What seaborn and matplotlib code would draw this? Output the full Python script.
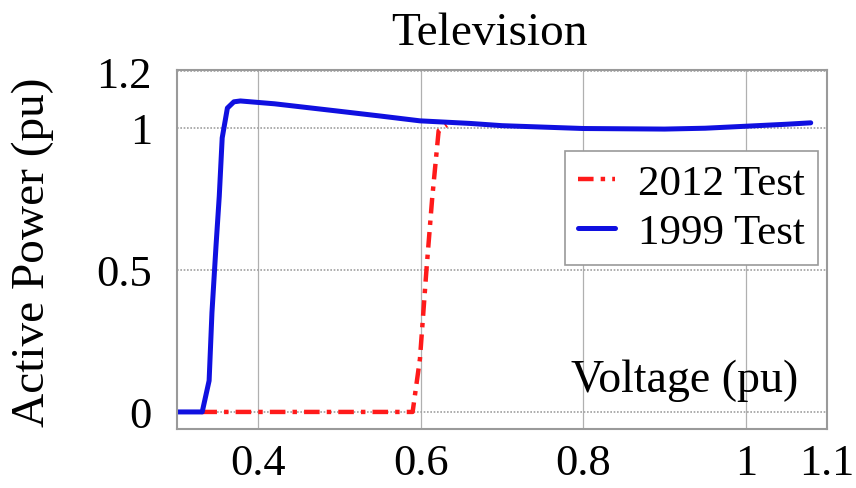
import matplotlib
matplotlib.use("Agg")
import matplotlib.pyplot as plt
import seaborn as sns
import pandas as pd

# Measured active power versus terminal voltage for a television set
volt_1999 = [0.30, 0.331, 0.3395, 0.343, 0.348, 0.352, 0.3556, 0.362, 0.370, 0.378,
             0.42, 0.496, 0.55, 0.599, 0.66, 0.70, 0.80, 0.90, 0.95, 1.00, 1.05, 1.08]
power_1999 = [0.0, 0.0, 0.11, 0.35, 0.585, 0.76, 0.965, 1.07, 1.092, 1.095,
              1.085, 1.06, 1.042, 1.025, 1.016, 1.008, 0.998, 0.996, 0.999, 1.006, 1.013, 1.018]

volt_2012 = [0.33, 0.45, 0.59, 0.599, 0.607, 0.614, 0.622, 0.632]
power_2012 = [0.0, 0.0, 0.0, 0.187, 0.50, 0.75, 0.99, 1.01]

x_ticks = [0.4, 0.6, 0.8, 1.0, 1.1]
x_tick_labels = ["0.4", "0.6", "0.8", "1", "1.1"]
y_ticks = [0, 0.5, 1.0, 1.2]
y_tick_labels = ["0", "0.5", "1", "1.2"]

sns.set_style("white")
plt.rcParams["font.family"] = ["Liberation Serif", "DejaVu Serif"]
plt.rcParams["text.color"] = "black"
plt.rcParams["axes.labelcolor"] = "black"

fig = plt.figure(figsize=(8.56, 4.89), dpi=100)
ax = fig.add_axes([0.2068, 0.1207, 0.7593, 0.7341])

df12 = pd.DataFrame({"Voltage": volt_2012, "Power": power_2012})
df99 = pd.DataFrame({"Voltage": volt_1999, "Power": power_1999})

sns.lineplot(data=df12, x="Voltage", y="Power", ax=ax, color="#ff1a1a",
             linewidth=3.2, linestyle=(0, (3.5, 1.6, 1.0, 1.6)), label="2012 Test")
sns.lineplot(data=df99, x="Voltage", y="Power", ax=ax, color="#1010e0",
             linewidth=3.6, label="1999 Test")

ax.set_xlim(0.3, 1.1)
ax.set_ylim(-0.06, 1.204)
ax.set_xticks(x_ticks)
ax.set_xticklabels(x_tick_labels)
ax.set_yticks(y_ticks)
ax.set_yticklabels(y_tick_labels)
ax.tick_params(axis="both", labelsize=32, length=0, colors="black")
ax.tick_params(axis="x", pad=10)
ax.tick_params(axis="y", pad=18)

# grid: solid verticals, dotted horizontals
for xv in x_ticks:
    ax.axvline(xv, color="#b0b0b0", linewidth=0.9, zorder=0)
for yv in y_ticks:
    ax.axhline(yv, color="#a0a0a0", linewidth=1.2, linestyle=(0, (1, 1)), zorder=0)

for sp in ax.spines.values():
    sp.set_color("#9a9a9a")
    sp.set_linewidth(1.5)

ax.set_xlabel("Voltage (pu)", fontsize=33, color="black")
ax.xaxis.set_label_coords(0.7815, 0.195)
ax.set_ylabel("")

fig.text(33 / 856, 1 - 252 / 489, "Active Power (pu)", rotation=90,
         ha="center", va="center", fontsize=34, color="black")
fig.text(489 / 856, 1 - 45 / 489, "Television", ha="center", va="baseline",
         fontsize=34, color="black")

leg = ax.legend(loc="upper right", bbox_to_anchor=(0.986, 0.774), fontsize=31,
                frameon=True, fancybox=False, framealpha=1.0, edgecolor="#9a9a9a",
                handlelength=0.85, handletextpad=0.55, borderpad=0.3,
                labelspacing=0.22, borderaxespad=0.0)
leg.get_frame().set_linewidth(1.2)
for t in leg.get_texts():
    t.set_color("black")

fig.savefig("out.png", dpi=100, facecolor="white")
